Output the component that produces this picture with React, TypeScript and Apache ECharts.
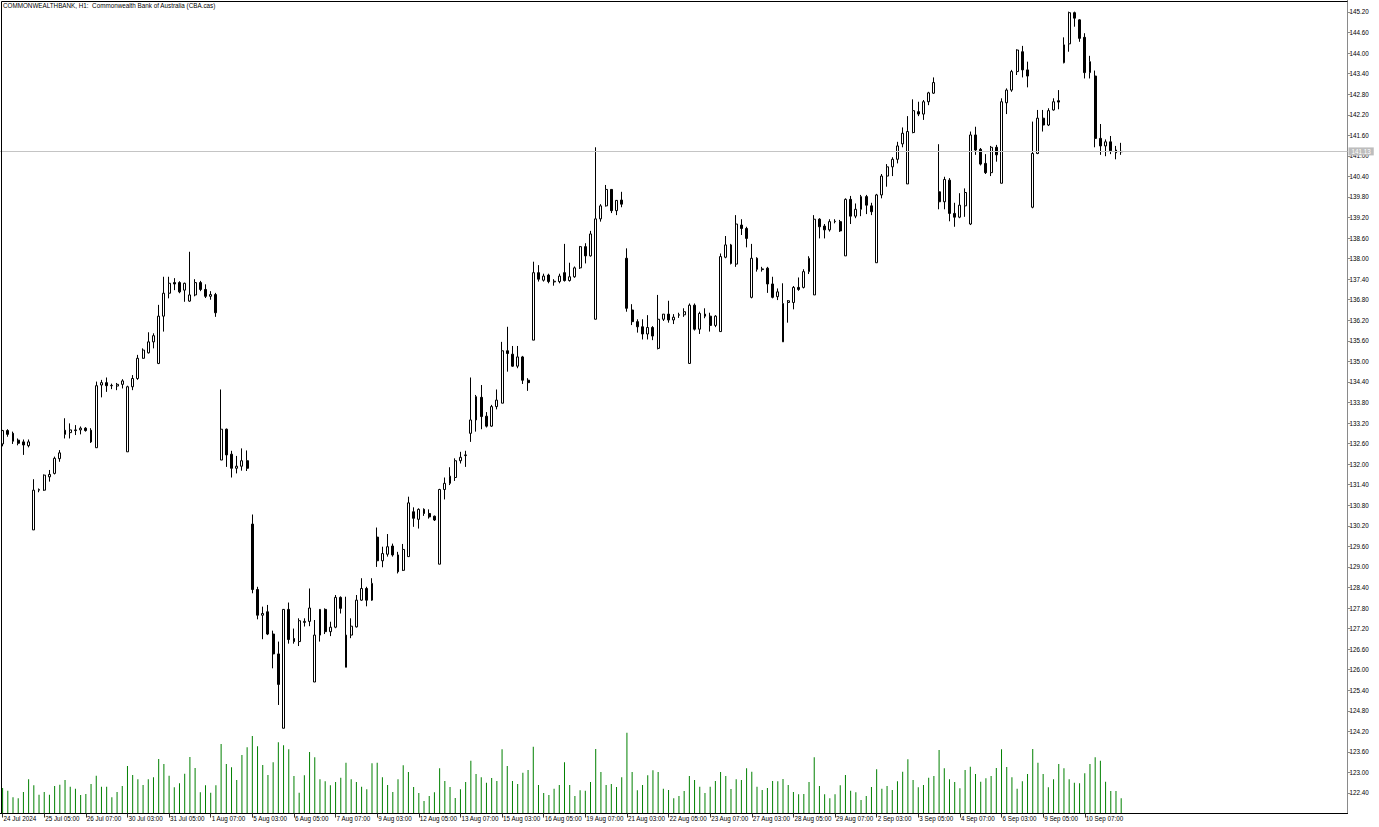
import React, { useEffect, useRef } from "react";
import * as echarts from "echarts";

const chartTitle = "COMMONWEALTHBANK, H1:  Commonwealth Bank of Australia (CBA.cas)";
const firstLabel = "24 Jul 2024";
const tradingDays = [
  "24 Jul", "25 Jul", "26 Jul", "29 Jul", "30 Jul", "31 Jul", "1 Aug", "2 Aug", "5 Aug", "6 Aug",
  "7 Aug", "8 Aug", "9 Aug", "12 Aug", "13 Aug", "14 Aug", "15 Aug", "16 Aug", "19 Aug", "20 Aug",
  "21 Aug", "22 Aug", "23 Aug", "26 Aug", "27 Aug", "28 Aug", "29 Aug", "30 Aug", "2 Sep", "3 Sep",
  "4 Sep", "5 Sep", "6 Sep", "9 Sep", "10 Sep", "11 Sep",
];
const sessionHours = ["03:00", "04:00", "05:00", "06:00", "07:00", "08:00"];
const emptySlots = 43;
const labelEvery = 8;
const lastLabelIndex = 208;

const priceMin = 121.8;
const priceMax = 145.55;
const priceStep = 0.6;
const lastPrice = 141.13;
const volumeMax = 10000;

const opens = [
  132.59, 132.98, 132.9, 132.7, 132.65, 132.54, 130.08, 131.24, 131.24, 131.63,
  131.73, 132.16, 132.99, 132.92, 132.98, 133.0, 133.05, 132.99, 132.48, 134.31,
  134.38, 134.29, 134.28, 134.33, 132.36, 134.26, 134.5, 135.09, 135.25, 135.57,
  134.94, 136.32, 136.99, 137.3, 137.3, 137.08, 136.76, 136.94, 137.3, 137.1,
  136.9, 136.95, 132.12, 133.02, 132.29, 131.88, 131.94, 132.1, 130.25, 128.34,
  127.59, 127.69, 127.04, 126.46, 124.29, 127.76, 126.91, 126.82, 127.38, 127.41,
  125.64, 127.01, 127.76, 127.11, 127.24, 128.11, 126.07, 127.01, 127.25, 128.03,
  128.37, 128.03, 129.87, 129.18, 129.37, 129.61, 129.35, 128.9, 129.3, 130.61,
  130.39, 130.68, 130.56, 130.48, 129.08, 131.26, 131.44, 131.61, 132.1, 132.25,
  132.9, 133.29, 133.95, 133.4, 133.11, 133.68, 133.78, 135.31, 135.21, 134.86,
  135.13, 134.45, 135.62, 137.59, 137.37, 137.52, 137.32, 137.33, 137.59, 137.36,
  137.47, 137.73, 138.35, 138.08, 136.23, 139.16, 139.54, 140.02, 139.4, 139.71,
  138.01, 136.5, 136.16, 136.01, 135.8, 135.99, 135.38, 136.23, 136.38, 136.21,
  136.35, 136.36, 134.94, 136.64, 135.94, 136.38, 136.32, 136.05, 135.87, 138.04,
  138.4, 137.84, 138.98, 138.88, 136.87, 138.01, 137.68, 137.72, 137.26, 136.89,
  135.57, 136.72, 136.72, 137.16, 137.16, 137.62, 136.94, 139.15, 138.95, 138.84,
  139.08, 139.08, 138.08, 139.73, 139.24, 139.44, 139.81, 139.54, 137.88, 139.86,
  140.41, 140.68, 140.9, 141.35, 140.18, 141.68, 142.29, 142.22, 142.58, 142.83,
  139.95, 139.66, 140.29, 139.32, 139.21, 139.54, 139.01, 141.61, 141.19, 140.78,
  140.51, 141.25, 140.2, 142.55, 142.92, 143.46, 144.04, 143.51, 139.5, 141.07,
  142.1, 141.9, 142.34, 142.61, 143.72, 144.27, 145.18, 144.97, 144.46, 143.43,
  143.33, 141.51, 141.29, 141.41, 141.17, 141.12,
];
const highs = [
  133.0, 133.02, 132.95, 132.75, 132.72, 132.72, 131.56, 131.29, 131.7, 131.83,
  132.22, 132.41, 133.34, 133.19, 133.14, 133.1, 133.08, 133.05, 134.41, 134.46,
  134.53, 134.35, 134.37, 134.48, 134.29, 134.6, 135.19, 135.38, 135.85, 135.82,
  136.65, 137.47, 137.47, 137.43, 137.34, 137.3, 138.2, 137.4, 137.35, 137.25,
  137.05, 137.0, 134.18, 133.04, 132.39, 132.24, 132.46, 132.4, 130.53, 128.42,
  127.84, 127.89, 127.14, 126.82, 127.77, 127.96, 127.2, 127.5, 127.5, 128.37,
  127.45, 127.77, 127.79, 127.4, 128.18, 128.14, 128.13, 127.5, 128.18, 128.67,
  128.42, 128.67, 130.15, 129.59, 129.96, 129.68, 129.44, 129.67, 131.05, 130.74,
  130.71, 130.71, 130.68, 130.5, 131.28, 131.61, 131.91, 132.17, 132.36, 132.39,
  134.53, 134.02, 134.31, 133.52, 133.73, 134.18, 135.57, 136.01, 135.45, 135.45,
  135.16, 134.51, 137.91, 137.81, 137.56, 137.56, 137.4, 137.56, 138.43, 137.88,
  137.77, 138.37, 138.45, 138.81, 141.25, 139.59, 140.15, 140.02, 139.71, 139.95,
  138.3, 136.67, 136.23, 136.23, 136.35, 136.03, 136.94, 136.38, 136.77, 136.38,
  136.42, 136.55, 136.69, 136.69, 136.45, 136.55, 136.42, 136.35, 138.15, 138.66,
  138.43, 139.27, 139.15, 138.93, 138.43, 138.04, 137.76, 137.76, 137.47, 137.13,
  137.28, 136.79, 137.2, 137.45, 137.69, 138.07, 139.27, 139.18, 139.01, 139.15,
  139.15, 139.13, 139.76, 139.83, 139.61, 139.86, 139.86, 139.63, 139.89, 140.47,
  140.76, 140.96, 141.41, 141.83, 142.16, 142.65, 142.58, 142.63, 142.87, 143.29,
  141.34, 140.39, 140.35, 139.63, 139.91, 140.05, 141.71, 141.85, 141.23, 141.05,
  141.29, 141.32, 142.68, 142.97, 143.51, 144.11, 144.21, 143.75, 142.0, 142.34,
  142.34, 142.39, 142.68, 142.92, 144.46, 145.21, 145.21, 144.99, 144.58, 143.92,
  143.49, 141.93, 141.48, 141.58, 141.29, 141.38,
];
const lows = [
  132.52, 132.8, 132.59, 132.55, 132.27, 132.49, 130.08, 131.18, 131.22, 131.49,
  131.7, 132.07, 132.75, 132.75, 132.85, 132.87, 132.95, 132.62, 132.48, 133.95,
  134.11, 134.19, 134.16, 134.21, 132.36, 134.16, 134.46, 135.08, 135.23, 135.38,
  134.92, 135.87, 136.84, 137.08, 136.99, 136.74, 136.74, 136.9, 137.05, 136.85,
  136.8, 136.3, 132.12, 131.92, 131.61, 131.73, 131.81, 131.8, 128.23, 127.47,
  126.89, 127.01, 126.04, 124.97, 124.29, 126.76, 126.76, 126.69, 127.26, 127.27,
  125.64, 126.82, 127.04, 126.98, 127.21, 127.64, 126.07, 126.92, 127.23, 128.01,
  127.85, 128.01, 129.0, 128.99, 129.3, 129.3, 128.81, 128.88, 129.3, 130.17,
  130.12, 130.49, 130.41, 130.34, 129.08, 130.97, 131.39, 131.51, 132.02, 131.92,
  132.65, 132.95, 133.02, 133.07, 133.09, 133.6, 133.78, 134.7, 134.84, 134.8,
  134.34, 134.14, 135.62, 137.33, 137.33, 137.28, 137.21, 137.28, 137.33, 137.33,
  137.44, 137.7, 137.86, 138.06, 136.23, 139.08, 139.52, 139.33, 139.27, 139.5,
  136.45, 136.06, 135.84, 135.64, 135.64, 135.62, 135.35, 136.18, 136.13, 136.09,
  136.27, 136.3, 134.94, 135.9, 135.8, 136.26, 135.87, 136.0, 135.87, 138.01,
  137.83, 137.76, 138.69, 138.33, 136.84, 137.62, 137.62, 137.0, 136.84, 136.79,
  135.57, 136.13, 136.52, 137.06, 137.13, 137.55, 136.94, 138.59, 138.59, 138.79,
  139.03, 138.78, 138.08, 139.01, 139.18, 139.24, 139.3, 139.27, 137.88, 139.76,
  140.1, 140.41, 140.78, 141.25, 140.18, 141.66, 142.16, 142.05, 142.48, 142.81,
  139.44, 139.44, 139.09, 138.93, 139.18, 139.22, 138.98, 141.03, 140.72, 140.47,
  140.41, 140.83, 140.2, 142.22, 142.87, 143.36, 143.29, 143.0, 139.47, 141.05,
  141.71, 141.87, 142.32, 142.36, 143.7, 144.04, 144.77, 144.33, 143.26, 143.26,
  141.25, 141.03, 140.99, 141.05, 140.9, 141.03,
];
const closes = [
  132.98, 132.87, 132.67, 132.61, 132.56, 132.65, 131.24, 131.26, 131.68, 131.7,
  132.17, 132.33, 132.87, 133.0, 133.0, 133.05, 132.98, 132.65, 134.29, 134.38,
  134.29, 134.3, 134.33, 134.43, 134.26, 134.5, 135.09, 135.33, 135.57, 135.75,
  136.32, 136.99, 137.28, 137.26, 137.03, 137.28, 136.94, 137.3, 137.1, 136.9,
  136.95, 136.42, 133.02, 132.27, 131.88, 131.94, 132.1, 131.88, 128.34, 127.59,
  127.64, 127.04, 126.46, 125.57, 127.76, 126.88, 126.82, 127.43, 127.41, 127.8,
  127.01, 127.76, 127.11, 127.24, 128.11, 127.79, 127.01, 127.27, 128.03, 128.37,
  128.03, 128.52, 129.18, 129.39, 129.59, 129.35, 128.86, 129.51, 130.87, 130.42,
  130.68, 130.56, 130.46, 130.37, 131.26, 131.44, 131.65, 132.1, 132.2, 132.27,
  133.29, 133.97, 133.39, 133.11, 133.68, 133.87, 135.31, 135.23, 134.86, 135.13,
  134.45, 134.38, 137.59, 137.4, 137.49, 137.33, 137.34, 137.49, 137.36, 137.47,
  137.73, 138.35, 138.08, 138.72, 139.16, 139.54, 140.02, 139.4, 139.7, 139.59,
  136.55, 136.16, 136.01, 135.8, 135.99, 135.74, 136.23, 136.38, 136.21, 136.29,
  136.36, 136.45, 136.64, 135.94, 136.4, 136.32, 136.05, 136.32, 138.06, 138.4,
  137.86, 139.01, 138.88, 138.59, 138.01, 137.69, 137.7, 137.26, 136.87, 137.03,
  136.69, 136.77, 137.16, 137.1, 137.62, 138.01, 139.15, 138.93, 138.84, 139.08,
  139.09, 138.81, 139.73, 139.24, 139.44, 139.81, 139.56, 139.37, 139.86, 140.41,
  140.68, 140.9, 141.29, 141.66, 141.71, 142.32, 142.22, 142.58, 142.84, 143.14,
  139.66, 140.31, 139.32, 139.21, 139.56, 139.93, 141.61, 141.17, 140.76, 140.51,
  141.25, 141.03, 142.58, 142.92, 143.46, 144.09, 143.51, 143.33, 141.07, 142.1,
  141.9, 142.32, 142.58, 142.57, 144.24, 145.18, 145.02, 144.43, 143.43, 143.75,
  141.51, 141.29, 141.41, 141.15, 141.09, 141.13,
];
const volumes = [
  2500, 2230, 1570, 1470, 2100, 3370, 2770, 1830, 2100, 1830,
  2700, 2830, 3300, 2630, 2430, 1800, 1900, 2900, 3730, 2630,
  2630, 1570, 2100, 2700, 4700, 3800, 3370, 2800, 3370, 3570,
  5400, 4900, 3730, 2570, 2970, 3930, 5600, 4500, 2070, 2770,
  2030, 2770, 6900, 4900, 4570, 3300, 5800, 6570, 7700, 6670,
  4800, 3800, 5070, 7070, 6770, 6370, 3700, 2030, 3770, 6100,
  5570, 3370, 3170, 2770, 3100, 3530, 5030, 3370, 3100, 2630,
  2370, 4970, 5030, 3570, 2800, 2100, 3370, 4770, 4100, 2600,
  2000, 1200, 1700, 2070, 4470, 3200, 2600, 1500, 2370, 3100,
  5230, 3900, 3570, 3030, 3500, 3200, 6370, 4700, 3200, 2900,
  4030, 4300, 6630, 2800, 2000, 1800, 2430, 2800, 5070, 2800,
  1700, 2270, 2230, 3100, 6400, 4100, 2800, 2900, 2600, 3570,
  8030, 4100, 2270, 2800, 3770, 4270, 4100, 2430, 2300, 1470,
  1700, 2200, 3700, 3300, 2630, 2000, 2630, 3200, 4100, 3700,
  2400, 3370, 3300, 4470, 4130, 2630, 2300, 2500, 3200, 3170,
  3400, 2800, 2100, 1870, 1900, 3100, 5570, 2700, 1870, 1470,
  1870, 2770, 3800, 2230, 2070, 1300, 1700, 2600, 4370, 2430,
  2700, 2300, 3170, 4130, 5370, 3300, 2570, 2800, 3530, 3700,
  6300, 4470, 3370, 3100, 2470, 4300, 4630, 3900, 3130, 3470,
  3700, 4500, 6370, 4600, 3570, 2430, 3170, 3900, 6400, 5030,
  3900, 2570, 3370, 4900, 4470, 3370, 3030, 2970, 3970, 4900,
  5570, 5230, 3130, 2200, 2200, 1470,
];

const FONT = "Liberation Sans";
const FS = 6.3;

export default function App() {
  const ref = useRef<HTMLDivElement>(null);
  useEffect(() => {
    document.body.style.margin = "0";
    const chart = echarts.init(ref.current as HTMLDivElement, undefined, { renderer: "svg" });
    const categories: string[] = [];
    tradingDays.forEach((d) => sessionHours.forEach((h) => categories.push(`${d} ${h}`)));
    const axisCats = categories.concat(Array.from({ length: emptySlots }, (_, k) => `pad${k}`));
    const candles = opens.map((o, i) => [o, closes[i], lows[i], highs[i]]);
    const showIdx = (i: number) => i % labelEvery === 0 && i <= lastLabelIndex;

    const gridLeft = 0;
    const gridRight = 31.5;
    const option: any = {
      animation: false,
      backgroundColor: "#ffffff",
      textStyle: { fontFamily: FONT },
      grid: [
        { left: gridLeft, right: gridRight, top: 0, bottom: 13.45, containLabel: false, outerBoundsMode: "none" },
        { left: gridLeft, right: gridRight, top: 713, bottom: 14, containLabel: false, outerBoundsMode: "none" },
      ],
      xAxis: [
        {
          type: "category",
          gridIndex: 0,
          data: axisCats,
          boundaryGap: true,
          axisLine: { show: true, lineStyle: { color: "#000", width: 1 } },
          axisTick: {
            show: true,
            alignWithLabel: true,
            interval: (i: number) => showIdx(i),
            length: 4,
            lineStyle: { color: "#333" },
          },
          axisLabel: {
            show: true,
            interval: (i: number) => showIdx(i),
            formatter: (v: string, i: number) => (i === 0 ? firstLabel : v),
            align: "left",
            margin: 2,
            padding: [0, 0, 0, 1],
            color: "#000",
            fontSize: FS,
            fontFamily: FONT,
          },
          splitLine: { show: false },
        },
        {
          type: "category",
          gridIndex: 1,
          data: axisCats,
          boundaryGap: true,
          show: false,
        },
      ],
      yAxis: [
        {
          type: "value",
          gridIndex: 0,
          position: "right",
          min: priceMin,
          max: priceMax,
          interval: priceStep,
          scale: false,
          axisLine: { show: true, lineStyle: { color: "#8a8a8a", width: 1 } },
          axisTick: { show: true, length: 3, lineStyle: { color: "#8a8a8a" } },
          axisLabel: {
            show: true,
            showMinLabel: false,
            showMaxLabel: false,
            formatter: (v: number) => v.toFixed(2),
            margin: 2,
            color: "#000",
            fontSize: FS,
            fontFamily: FONT,
          },
          splitLine: { show: false },
        },
        {
          type: "value",
          gridIndex: 1,
          min: 0,
          max: volumeMax,
          show: false,
          splitLine: { show: false },
        },
      ],
      series: [
        {
          type: "bar",
          name: "Volume",
          xAxisIndex: 1,
          yAxisIndex: 1,
          data: volumes,
          barWidth: 1,
          itemStyle: { color: "#008000" },
          silent: true,
        },
        {
          type: "candlestick",
          name: "CBA",
          xAxisIndex: 0,
          yAxisIndex: 0,
          data: candles,
          barWidth: 2.4,
          itemStyle: {
            color: "#ffffff",
            color0: "#000000",
            borderColor: "#000000",
            borderColor0: "#000000",
            borderWidth: 1,
          },
          silent: true,
          markLine: {
            silent: true,
            symbol: ["none", "none"],
            animation: false,
            lineStyle: { color: "#c4c4c4", type: "solid", width: 1 },
            label: {
              show: true,
              position: "end",
              distance: 1,
              formatter: () => lastPrice.toFixed(2),
              color: "#ffffff",
              backgroundColor: "#bdbdbd",
              padding: [1, 3, 1, 3],
              fontSize: FS,
              fontFamily: FONT,
            },
            data: [{ yAxis: lastPrice }],
          },
        },
      ],
      graphic: [
        {
          type: "polyline",
          silent: true,
          z: 100,
          shape: { points: [[1347.5, 1.5], [1.5, 1.5], [1.5, 813.5]] },
          style: { stroke: "#000", lineWidth: 1, fill: "none" },
        },
        {
          type: "text",
          left: 3,
          top: 2,
          silent: true,
          z: 100,
          style: { text: chartTitle, fontSize: FS, fontFamily: FONT, fill: "#000" },
        },
      ],
    };
    chart.setOption(option);
    return () => chart.dispose();
  }, []);
  return (
    <div
      ref={ref}
      style={{ position: "fixed", left: 0, top: 0, width: 1379, height: 827, background: "#fff" }}
    />
  );
}
